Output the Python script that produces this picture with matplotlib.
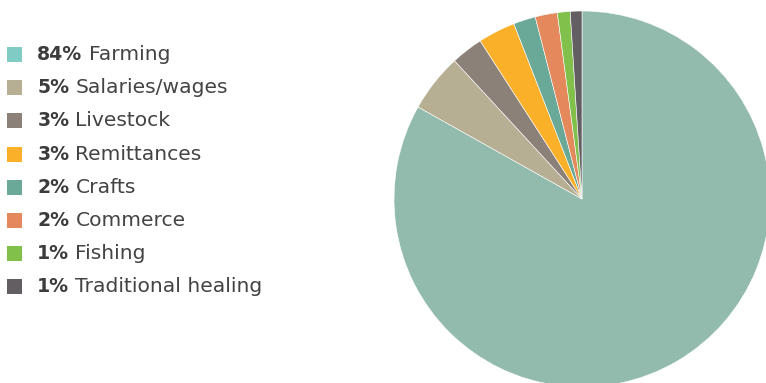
import matplotlib
matplotlib.use("Agg")
import matplotlib.pyplot as plt
from matplotlib.patches import Rectangle

categories = ["Farming", "Salaries/wages", "Livestock", "Remittances",
              "Crafts", "Commerce", "Fishing", "Traditional healing"]
label_pct = [84, 5, 3, 3, 2, 2, 1, 1]
values = [83.1, 5.0, 2.75, 3.2, 1.9, 1.9, 1.1, 1.0]
pie_colors = ["#93bbad", "#b7af94", "#8c8178", "#fbb02a",
              "#6aa898", "#e3895c", "#80c04b", "#625e62"]
legend_colors = ["#80cbc4", "#b7af94", "#8c8178", "#fbb02a",
                 "#6aa898", "#e3895c", "#80c04b", "#625e62"]

W, H = 766, 383
fig = plt.figure(figsize=(W / 100, H / 100), dpi=100)
fig.patch.set_facecolor("white")

cx, cy, r = 582, 199, 188
ax = fig.add_axes([(cx - r) / W, (H - cy - r) / H, 2 * r / W, 2 * r / H])
ax.pie(values, colors=pie_colors, startangle=90, counterclock=False, radius=1,
       wedgeprops=dict(edgecolor="white", linewidth=0.4))
ax.set_xlim(-1, 1)
ax.set_ylim(-1, 1)
ax.set_aspect("equal")
ax.axis("off")

lax = fig.add_axes([0, 0, 1, 1])
lax.set_xlim(0, W)
lax.set_ylim(H, 0)
lax.axis("off")

y0, dy = 54.7, 33.1
sq = 15
font = "DejaVu Sans"
tcol = "#3c3c3c"
for i, (cat, p, c) in enumerate(zip(categories, label_pct, legend_colors)):
    yc = y0 + i * dy
    t = lax.text(37.3, yc, f"{p}%", fontsize=13.6, fontweight="bold", family=font,
                 color=tcol, va="center", ha="left")
    lax.add_patch(Rectangle((7, yc - sq / 2), sq, sq, facecolor=c, edgecolor="none"))
    lax.annotate(cat, xy=(1, 0.5), xycoords=t, xytext=(4.3, 0),
                 textcoords="offset points", fontsize=14.6, family=font,
                 color="#444444", va="center", ha="left")

fig.savefig("out.png", dpi=100, facecolor="white")
